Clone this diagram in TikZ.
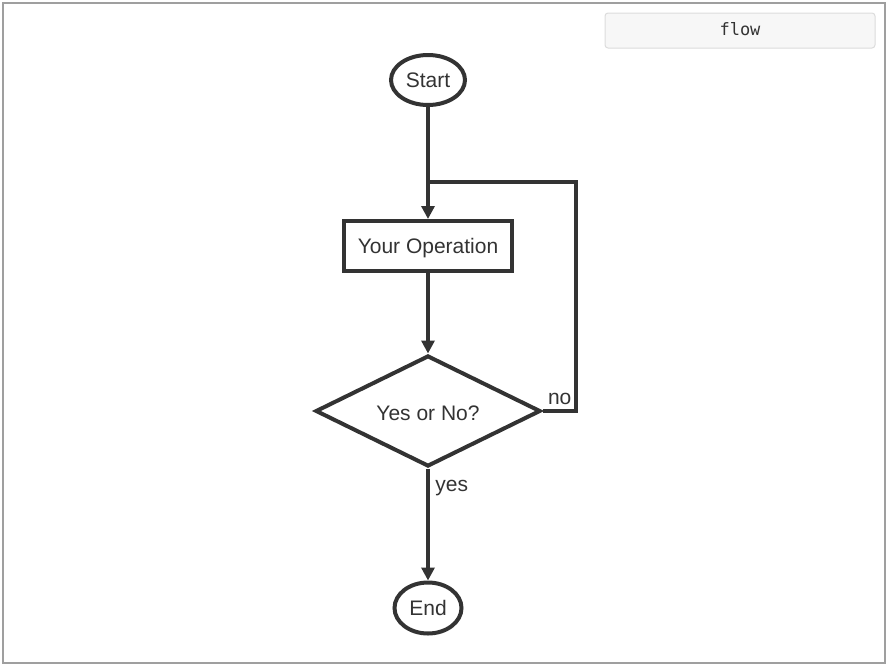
\documentclass[tikz,border=0pt]{standalone}
\usepackage{fontspec}
\setmainfont{Liberation Sans}
\newfontfamily\monofont{DejaVu Sans Mono}
\usepackage{tikz}
\usetikzlibrary{arrows.meta,shapes.geometric}
\definecolor{ink}{HTML}{333333}
\definecolor{btnfill}{HTML}{F7F7F7}
\definecolor{btnline}{HTML}{DCDCDC}
\newcommand{\lowered}[1]{\raisebox{-2.5pt}[\height][\depth]{#1}}

\begin{document}
\begin{tikzpicture}[x=1pt,y=-1pt,
		every node/.style={text=ink,font=\fontsize{21}{25}\selectfont},
		flowline/.style={ink,line width=4pt},
		flowarrow/.style={flowline,-{Triangle[length=13pt,width=13pt]}},
		terminal/.style={ellipse,draw=ink,line width=4pt,fill=white,inner sep=0pt},
		opbox/.style={rectangle,draw=ink,line width=4pt,fill=white,minimum width=168pt,minimum height=50pt},
		choice/.style={diamond,aspect=2,draw=ink,line width=4pt,fill=white,minimum width=225pt,minimum height=111pt,inner sep=0pt}]
		% canvas and frame
		\useasboundingbox (0,0) rectangle (889,667);
		\draw[gray!75,line width=1.5pt] (3,3) rectangle (885,663);
		
		% the button in the corner
		\draw[btnline,fill=btnfill,rounded corners=3pt,line width=1pt] (605,13) rectangle (875,48);
		\node (btn) at (740,29) {\monofont\fontsize{17}{19}\selectfont flow};
		
		% the chart
		\node[terminal,minimum width=74pt,minimum height=50pt] (start) at (428,80) {Start};
		\node[opbox] (op) at (428,246) {\lowered{Your Operation}};
		\node[choice] (dec) at (428,411) {\lowered{Yes or No?}};
		\node[terminal,minimum width=67pt,minimum height=51pt] (end) at (428,608) {End};
		\coordinate (join) at (428,182);
		\coordinate (turn) at (576,411);
		
		% connectors
		\draw[flowarrow] (start.south) -- (op.north);
		\draw[flowarrow] (op.south) -- (dec.north);
		\draw[flowarrow] (dec.south) -- (end.north)
		node[pos=0.17,right=2pt] {yes};
		\draw[flowline,line join=miter] (dec.east) -- (turn) |- (join);
		\node[anchor=south west] (nolbl) at ([xshift=2pt,yshift=3pt]dec.east) {no};
	\end{tikzpicture}
\end{document}
